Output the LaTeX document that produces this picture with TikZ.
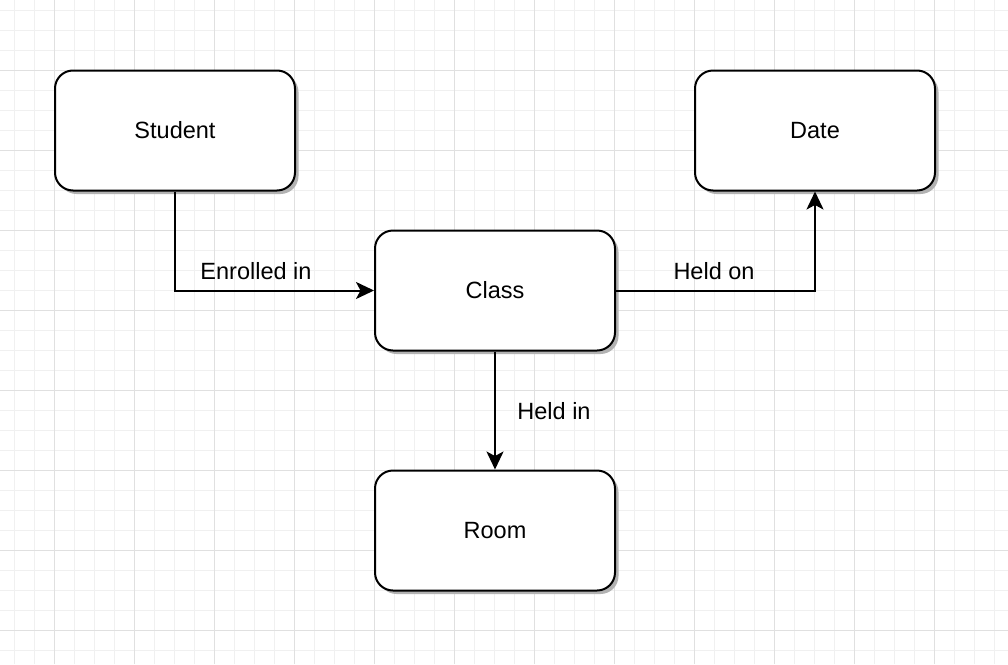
\documentclass[tikz,border=0pt]{standalone}
\usepackage{fontspec}
\setmainfont{Liberation Sans}
\usetikzlibrary{arrows.meta,shadows}
\begin{document}
\begin{tikzpicture}[x=1pt, y=-1pt,
    entity/.style ={rectangle, draw, line width=2pt, rounded corners=18pt, fill=white,
      minimum width=240pt, minimum height=120pt, inner sep=0pt,
      drop shadow={shadow xshift=3.5pt, shadow yshift=-3.5pt, fill=black!30, opacity=1},
      font=\fontsize{23.5}{27}\selectfont},
    relation/.style ={line width=2pt, -{Stealth[length=18pt, width=17pt, inset=4.5pt]}},
    caption/.style ={font=\fontsize{23.5}{27}\selectfont, inner sep=0pt}]
   \useasboundingbox (0,0) rectangle (1008,664);
   \fill[white] (0,0) rectangle (1008,664);
   % grid
   \foreach \x in {14,34,...,1000} \draw[line width=1pt, black!6] (\x,0) -- (\x,664);
   \foreach \y in {10,30,...,660} \draw[line width=1pt, black!6] (0,\y) -- (1008,\y);
   \foreach \x in {54,134,...,1000} \draw[line width=1pt, black!12] (\x,0) -- (\x,664);
   \foreach \y in {70,150,...,660} \draw[line width=1pt, black!12] (0,\y) -- (1008,\y);

   \node[entity] (S)  at (175,130.5)  {Student};
   \node[entity] (D)  at (815,130.5)  {Date};
   \node[entity] (C)  at (495,290.5)  {Class};
   \node[entity] (R)  at (495,530.5)  {Room};

   \draw[relation] (S) |-  (C);
   \draw[relation] (C) -|  (D);
   \draw[relation] (C) to  (R);

   \node[caption] (E1) at (256,271.5)  {Enrolled in};
   \node[caption] (E2) at (714,271.5)  {Held on};
   \node[caption] (E3) at (554,411.5)  {Held in};
 \end{tikzpicture}
\end{document}
